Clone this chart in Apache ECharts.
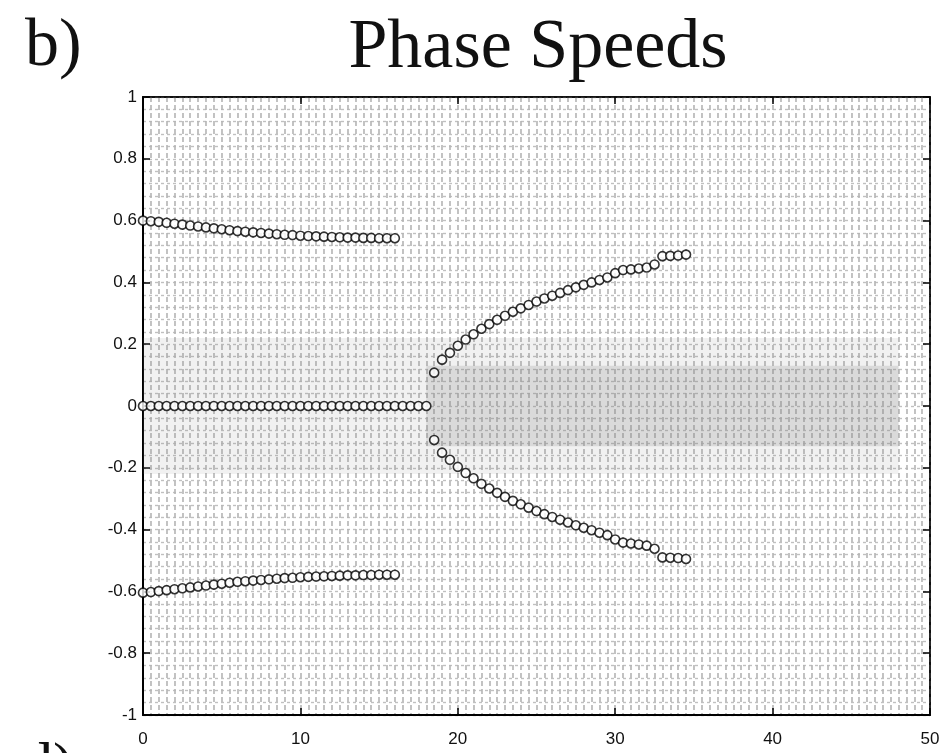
<!DOCTYPE html>
<html>
<head>
<meta charset="utf-8">
<script src="https://cdn.jsdelivr.net/npm/echarts@6/dist/echarts.min.js"></script>
<style>
html,body{margin:0;padding:0;background:#fff;}
#chart{width:943px;height:753px;}
</style>
</head>
<body>
<div id="chart"></div>
<script>
// ---- data ----
const xTicks = [0, 10, 20, 30, 40, 50];
const yTicks = [-1, -0.8, -0.6, -0.4, -0.2, 0, 0.2, 0.4, 0.6, 0.8, 1];

const zeroX = [0,0.5,1,1.5,2,2.5,3,3.5,4,4.5,5,5.5,6,6.5,7,7.5,8,8.5,9,9.5,10,10.5,11,11.5,12,12.5,13,13.5,14,14.5,15,15.5,16,16.5,17,17.5,18];
const zeroY = [0,0,0,0,0,0,0,0,0,0,0,0,0,0,0,0,0,0,0,0,0,0,0,0,0,0,0,0,0,0,0,0,0,0,0,0,0];

const leftX = [0,0.5,1,1.5,2,2.5,3,3.5,4,4.5,5,5.5,6,6.5,7,7.5,8,8.5,9,9.5,10,10.5,11,11.5,12,12.5,13,13.5,14,14.5,15,15.5,16];
const leftUpperY = [0.600,0.598,0.596,0.593,0.590,0.587,0.584,0.581,0.578,0.575,0.572,0.569,0.566,0.564,0.562,0.560,0.558,0.556,0.554,0.553,0.551,0.550,0.549,0.548,0.547,0.546,0.545,0.545,0.544,0.544,0.543,0.543,0.543];
const leftLowerY = [-0.604,-0.602,-0.599,-0.596,-0.593,-0.590,-0.587,-0.584,-0.581,-0.578,-0.575,-0.572,-0.569,-0.567,-0.565,-0.563,-0.561,-0.559,-0.557,-0.556,-0.554,-0.553,-0.552,-0.551,-0.550,-0.549,-0.548,-0.548,-0.547,-0.547,-0.546,-0.546,-0.546];

const rightX = [18.5,19,19.5,20,20.5,21,21.5,22,22.5,23,23.5,24,24.5,25,25.5,26,26.5,27,27.5,28,28.5,29,29.5,30,30.5,31,31.5,32,32.5,33,33.5,34,34.5];
const rightUpperY = [0.108,0.150,0.172,0.195,0.215,0.232,0.250,0.265,0.279,0.292,0.305,0.316,0.327,0.338,0.348,0.357,0.366,0.375,0.384,0.392,0.400,0.408,0.416,0.430,0.440,0.442,0.445,0.448,0.458,0.485,0.486,0.487,0.490];
const rightLowerY = [-0.110,-0.151,-0.174,-0.197,-0.217,-0.234,-0.252,-0.267,-0.281,-0.294,-0.307,-0.318,-0.329,-0.340,-0.350,-0.359,-0.368,-0.377,-0.386,-0.394,-0.402,-0.410,-0.418,-0.432,-0.442,-0.445,-0.448,-0.452,-0.462,-0.490,-0.491,-0.492,-0.495];

function pairs(xs, ys){ return xs.map((x,i)=>[x, ys[i]]); }

const chart = echarts.init(document.getElementById('chart'), null, {renderer:'canvas'});

const labelFont = {color:'#111', fontSize:17, fontFamily:'"Liberation Sans Narrow", "Liberation Sans", Arial, sans-serif'};
const markerStyle = {color:'#fff', borderColor:'#000', borderWidth:1.6};
const serif = '"Liberation Serif", "DejaVu Serif", serif';
const vLine = {color:'#b4b4b4', width:1.6, type:[5,3]};
const hLine = {color:'#c0c0c0', width:1.4, type:[3,3]};

function scatter(data, extra){
  return Object.assign({
    type:'scatter', data:data, symbol:'circle', symbolSize:9,
    itemStyle:markerStyle, silent:true, z:5
  }, extra||{});
}

const option = {
  backgroundColor:'#fff',
  animation:false,
  title:[
    {text:'Phase Speeds', left:533, top:9, textAlign:'center',
     textStyle:{fontFamily:serif, fontWeight:'normal', fontSize:70, color:'#111'}},
    {text:'b)', left:20, top:8,
     textStyle:{fontFamily:serif, fontWeight:'normal', fontSize:68, color:'#111'}}
  ],
  grid:{left:143, right:13, top:97, bottom:38, show:true, borderColor:'#000', borderWidth:1.5, backgroundColor:'transparent'},
  xAxis:[{
    type:'value', min:0, max:50, interval:10, position:'bottom',
    axisLine:{show:true, onZero:false, lineStyle:{color:'#000', width:2}},
    axisTick:{show:true, inside:true, length:7, lineStyle:{color:'#000', width:1.5}},
    axisLabel:Object.assign({margin:16, formatter:v=>xTicks.includes(v)?String(v):''}, labelFont),
    splitLine:{show:true, lineStyle:vLine},
    minorTick:{show:false, splitNumber:20},
    minorSplitLine:{show:true, lineStyle:vLine}
  },{
    type:'value', min:0, max:50, interval:10, position:'top',
    axisLine:{show:true, onZero:false, lineStyle:{color:'#000', width:1.5}},
    axisTick:{show:true, inside:true, length:7, lineStyle:{color:'#000', width:1.5}},
    axisLabel:{show:false}, splitLine:{show:false}
  }],
  yAxis:[{
    type:'value', min:-1, max:1, interval:0.2, position:'left',
    axisLine:{show:true, onZero:false, lineStyle:{color:'#000', width:2}},
    axisTick:{show:true, inside:true, length:7, lineStyle:{color:'#000', width:1.5}},
    axisLabel:Object.assign({margin:6, formatter:v=>{
      const r = Math.round(v*10)/10;
      if (!yTicks.some(t=>Math.abs(t-r)<1e-9)) return '';
      if (r===0) return '0';
      if (r===1) return '1';
      if (r===-1) return '-1';
      return r.toFixed(1);
    }}, labelFont),
    splitLine:{show:true, lineStyle:hLine},
    minorTick:{show:false, splitNumber:5},
    minorSplitLine:{show:true, lineStyle:hLine}
  },{
    type:'value', min:-1, max:1, interval:0.2, position:'right',
    axisLine:{show:true, onZero:false, lineStyle:{color:'#000', width:1.5}},
    axisTick:{show:true, inside:true, length:7, lineStyle:{color:'#000', width:1.5}},
    axisLabel:{show:false}, splitLine:{show:false}
  }],
  series:[
    scatter(pairs(zeroX, zeroY), {
      markArea:{silent:true, itemStyle:{color:'rgba(140,140,140,0.12)'}, data:[
        [{coord:[0,-0.22]},{coord:[48,0.22]}],
        [{coord:[18,-0.13], itemStyle:{color:'rgba(130,130,130,0.2)'}},{coord:[48,0.13]}]
      ]}
    }),
    scatter(pairs(leftX, leftUpperY)),
    scatter(pairs(leftX, leftLowerY)),
    scatter(pairs(rightX, rightUpperY)),
    scatter(pairs(rightX, rightLowerY))
  ],
  graphic:[
    {type:'text', left:22, top:738, style:{text:'d)', font:'62px "Liberation Serif", serif', fill:'#111'}}
  ]
};
chart.setOption(option);
</script>
</body>
</html>
